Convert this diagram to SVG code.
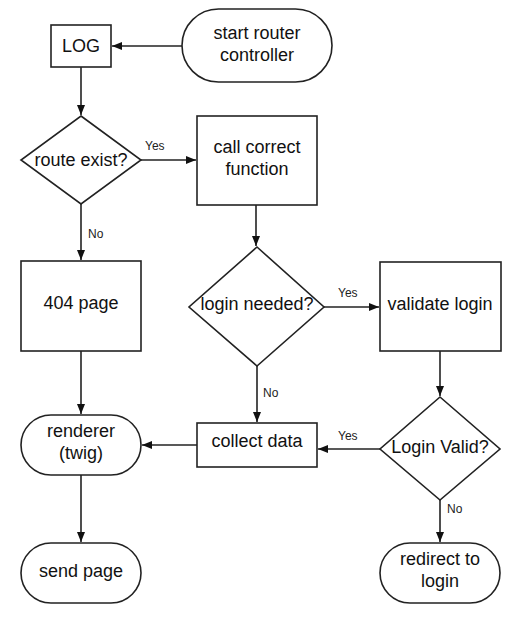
<svg xmlns="http://www.w3.org/2000/svg" width="516" height="619" viewBox="0 0 516 619">
<style>
.n{fill:#fff;stroke:#222;stroke-width:1.6}
.t{font-family:"Liberation Sans",Arial,sans-serif;font-size:18px;fill:#111;text-anchor:middle}
.l{font-family:"Liberation Sans",Arial,sans-serif;font-size:12px;fill:#222}
.c{fill:none;stroke:#222;stroke-width:1.6}
</style>
<defs>
<marker id="a" viewBox="0 0 10 10" refX="10" refY="5" markerWidth="10" markerHeight="10" markerUnits="userSpaceOnUse" orient="auto">
<path d="M0,1 L10,5 L0,9 Z" fill="#111"/>
</marker>
</defs>
<rect width="516" height="619" fill="#fff"/>
<g id="connectors">
<path class="c" d="M182,46 L112,46" marker-end="url(#a)"/>
<path class="c" d="M81,67 L81,115" marker-end="url(#a)"/>
<path class="c" d="M141,160 L196,160" marker-end="url(#a)"/>
<path class="c" d="M81,204 L81,260" marker-end="url(#a)"/>
<path class="c" d="M256,205 L256,246" marker-end="url(#a)"/>
<path class="c" d="M324,307 L379,307" marker-end="url(#a)"/>
<path class="c" d="M257,366 L257,422" marker-end="url(#a)"/>
<path class="c" d="M440,351 L440,396" marker-end="url(#a)"/>
<path class="c" d="M380,449 L318,449" marker-end="url(#a)"/>
<path class="c" d="M197,445 L142,445" marker-end="url(#a)"/>
<path class="c" d="M81,351 L81,414" marker-end="url(#a)"/>
<path class="c" d="M81,475 L81,542" marker-end="url(#a)"/>
<path class="c" d="M440,500 L440,542" marker-end="url(#a)"/>
<text class="l" x="145" y="150">Yes</text>
<text class="l" x="88" y="238">No</text>
<text class="l" x="338" y="297">Yes</text>
<text class="l" x="263" y="397">No</text>
<text class="l" x="338" y="440">Yes</text>
<text class="l" x="447" y="513">No</text>
</g>
<g id="start">
<rect class="n" x="182" y="9" width="150" height="73" rx="36.5"/>
<text class="t" x="257" y="39">start router</text>
<text class="t" x="257" y="61">controller</text>
</g>
<g id="log">
<rect class="n" x="51" y="25" width="60" height="42"/>
<text class="t" x="81" y="52">LOG</text>
</g>
<g id="route-exist">
<path class="n" d="M81,116 L141,160 L81,204 L21,160 Z"/>
<text class="t" x="81" y="166">route exist?</text>
</g>
<g id="call-function">
<rect class="n" x="197" y="116" width="120" height="89"/>
<text class="t" x="257" y="153">call correct</text>
<text class="t" x="257" y="175">function</text>
</g>
<g id="page-404">
<rect class="n" x="21" y="261" width="120" height="90"/>
<text class="t" x="81" y="309">404 page</text>
</g>
<g id="login-needed">
<path class="n" d="M257,247 L324,307 L257,366 L189,307 Z"/>
<text class="t" x="257" y="310">login needed?</text>
</g>
<g id="validate-login">
<rect class="n" x="380" y="262" width="121" height="89"/>
<text class="t" x="440" y="310">validate login</text>
</g>
<g id="login-valid">
<path class="n" d="M440,397 L500,449 L440,500 L380,449 Z"/>
<text class="t" x="440" y="453">Login Valid?</text>
</g>
<g id="collect-data">
<rect class="n" x="197" y="423" width="120" height="44"/>
<text class="t" x="257" y="447">collect data</text>
</g>
<g id="renderer">
<rect class="n" x="21" y="415" width="120" height="60" rx="30"/>
<text class="t" x="81" y="437">renderer</text>
<text class="t" x="81" y="459">(twig)</text>
</g>
<g id="send-page">
<rect class="n" x="21" y="543" width="120" height="60" rx="30"/>
<text class="t" x="81" y="577">send page</text>
</g>
<g id="redirect-login">
<rect class="n" x="380" y="543" width="120" height="60" rx="30"/>
<text class="t" x="440" y="565">redirect to</text>
<text class="t" x="440" y="587">login</text>
</g>
</svg>
